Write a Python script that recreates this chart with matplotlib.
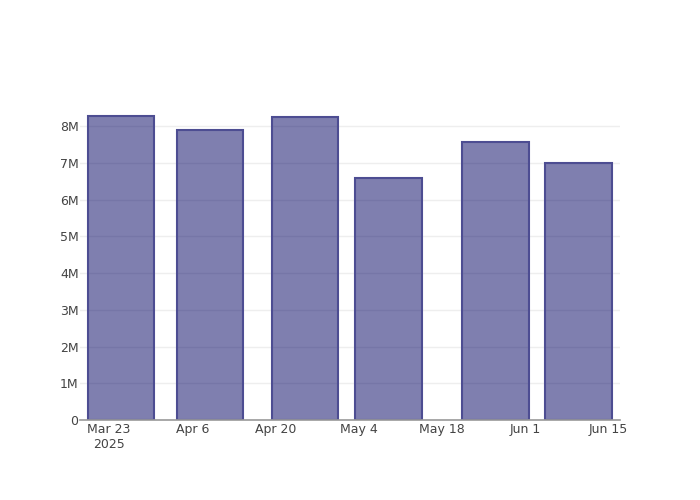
import numpy as np
import pandas as pd
import matplotlib
matplotlib.use("Agg")
import matplotlib.pyplot as plt
import matplotlib.dates as mdates

# bar dates and values
dates = pd.to_datetime(["2025-03-25", "2025-04-09", "2025-04-25",
                        "2025-05-09", "2025-05-27", "2025-06-10"])
values = [8.27e6, 7.89e6, 8.24e6, 6.59e6, 7.57e6, 6.99e6]

tick_dates = pd.to_datetime(["2025-03-23", "2025-04-06", "2025-04-20", "2025-05-04",
                             "2025-05-18", "2025-06-01", "2025-06-15"])
tick_labels = ["Mar 23\n2025", "Apr 6", "Apr 20", "May 4", "May 18", "Jun 1", "Jun 15"]
y_ticks = [0, 1e6, 2e6, 3e6, 4e6, 5e6, 6e6, 7e6, 8e6]
y_labels = ["0", "1M", "2M", "3M", "4M", "5M", "6M", "7M", "8M"]

plt.rcParams['font.family'] = ['DejaVu Sans']

fig = plt.figure(figsize=(7, 5), dpi=100)
ax = fig.add_axes([80 / 700, 80 / 500, 540 / 700, 320 / 500])

x = mdates.date2num(dates)
bar_width = 14 * 0.8
ax.bar(x, values, width=bar_width, color=(0, 0, 0.38, 0.5),
       edgecolor="#4d4d92", linewidth=1.5, zorder=3)

ax.set_xlim(x[0] - bar_width / 2 - 1.3, x[-1] + bar_width / 2 + 1.4)
ax.set_ylim(0, 8.71e6)

ax.set_xticks(mdates.date2num(tick_dates))
ax.set_xticklabels(tick_labels)
ax.set_yticks(y_ticks)
ax.set_yticklabels(y_labels)
ax.tick_params(axis='both', length=0, labelsize=9, colors="#444444")
ax.tick_params(axis='x', pad=2)
ax.tick_params(axis='y', pad=1)

ax.grid(axis='y', color="#eeeeee", linewidth=1, zorder=0)
ax.set_axisbelow(True)
for side in ["top", "right", "left"]:
    ax.spines[side].set_visible(False)
ax.spines["bottom"].set_color("#999999")
ax.spines["bottom"].set_linewidth(1.2)
ax.spines["bottom"].set_zorder(4)

fig.savefig("out.png", dpi=100)
